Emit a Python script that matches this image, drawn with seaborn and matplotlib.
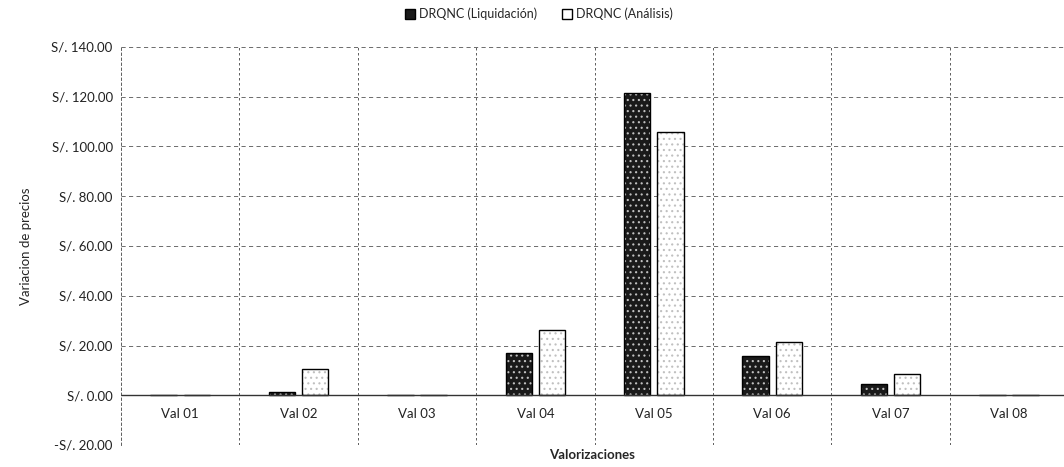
import pandas as pd
import numpy as np
import matplotlib
matplotlib.use("Agg")
import matplotlib.pyplot as plt
import matplotlib.colors as mcolors
import seaborn as sns
from matplotlib.patches import Patch
from matplotlib.ticker import FuncFormatter, MultipleLocator

#------------------------------------------------------------------
# Data
#------------------------------------------------------------------
categorias = ["Val 01", "Val 02", "Val 03", "Val 04", "Val 05", "Val 06", "Val 07", "Val 08"]
liquidacion = [0.0, 1.3, 0.0, 17.0, 121.4, 15.9, 4.6, 0.0]
analisis = [0.0, 10.5, 0.0, 26.3, 106.0, 21.6, 8.6, 0.0]
series = ["DRQNC (Liquidación)", "DRQNC (Análisis)"]

df = pd.DataFrame({
    "Valorizaciones": categorias * 2,
    "Serie": [series[0]] * len(categorias) + [series[1]] * len(categorias),
    "Precio": liquidacion + analisis,
})

#------------------------------------------------------------------
# Plot
#------------------------------------------------------------------
sns.set_style("white")
plt.rcParams["font.family"] = ["Lato", "DejaVu Sans"]
plt.rcParams["hatch.linewidth"] = 0.8

fig = plt.figure(figsize=(10.64, 4.67), dpi=100)
ax = fig.add_axes([121 / 1064, 1 - 445 / 467, 943 / 1064, (445 - 47) / 467])

colores = {series[0]: "#1a1a1a", series[1]: "#ffffff"}
sns.barplot(data=df, x="Valorizaciones", y="Precio", hue="Serie", palette=colores,
            width=0.56, gap=0.2, edgecolor="black", linewidth=1.0, ax=ax, legend=False)

# speckled fill: light dots on both series
speckle = mcolors.to_rgba("#c0c0c0")
for p in ax.patches:
    p.set_hatch("...")
    if hasattr(p, "set_hatchcolor"):
        p.set_hatchcolor(speckle)
    else:
        p._hatch_color = speckle

ax.set_xlim(-0.5, -0.5 + 943 / 118.4)
ax.set_ylim(-20, 140)
ax.yaxis.set_major_locator(MultipleLocator(20))

def fmt(v, pos):
    if v < 0:
        return "-S/. %.2f" % abs(v)
    return "S/. %.2f" % v

ax.yaxis.set_major_formatter(FuncFormatter(fmt))

# grid lines: dashed horizontal at ticks, dashed vertical at category borders
for v in np.arange(-20, 141, 20):
    if v == 0:
        continue
    ax.axhline(v, color="#555555", lw=0.6, ls=(0, (5, 4)), zorder=0)
for i in range(len(categorias)):
    ax.axvline(i + 0.5, color="#444444", lw=0.6, ls=(0, (3, 3)), zorder=0)
ax.axhline(0, color="#333333", lw=1.0, zorder=1)

for s in ["top", "right", "bottom"]:
    ax.spines[s].set_visible(False)
ax.spines["left"].set_linestyle((0, (3, 3)))
ax.spines["left"].set_linewidth(0.6)
ax.spines["left"].set_color("#444444")

ax.tick_params(axis="y", length=0, labelsize=9.5, pad=6, colors="#222222")
ax.tick_params(axis="x", length=0, labelsize=9.5, pad=-27, colors="#222222")

ax.set_xlabel("Valorizaciones", fontsize=9.5, fontweight="bold", labelpad=3)
ax.set_ylabel("Variacion de precios", fontsize=9.5, labelpad=14)

handles = [Patch(facecolor=colores[series[0]], edgecolor="black", label=series[0]),
           Patch(facecolor=colores[series[1]], edgecolor="black", label=series[1])]
fig.legend(handles=handles, loc="center", bbox_to_anchor=(539 / 1064, 1 - 14 / 467),
           ncol=2, frameon=False, fontsize=9, handlelength=0.8, handleheight=0.8,
           handletextpad=0.3, columnspacing=2.0)

plt.savefig("out.png", dpi=100)
